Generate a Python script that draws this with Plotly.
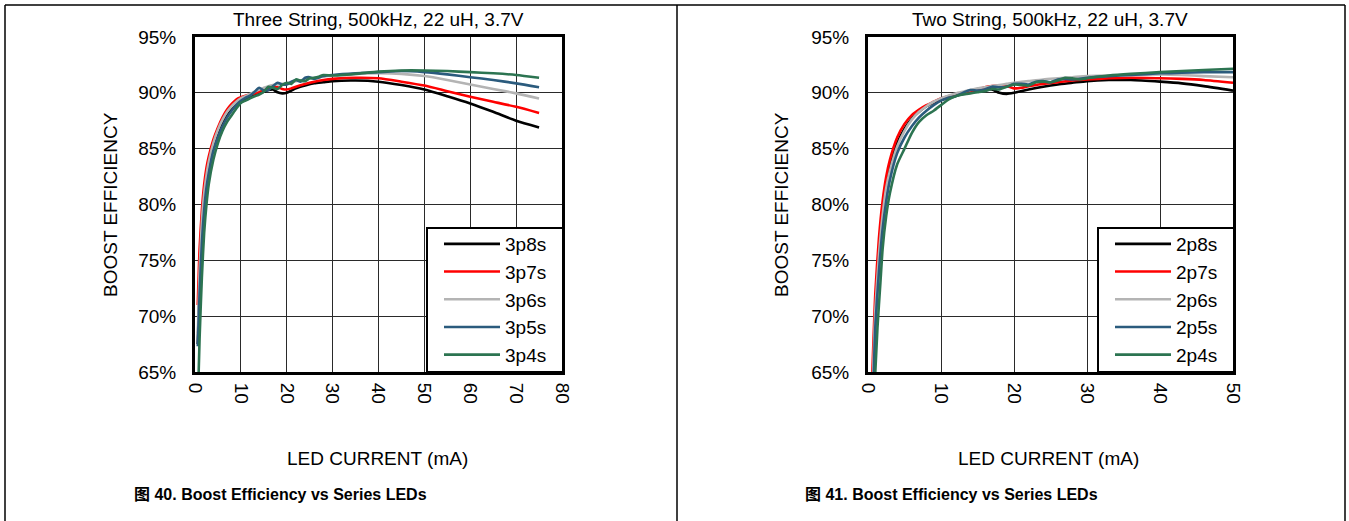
import plotly.graph_objects as go

# ---------------- data: left chart (Three String) ----------------
x3_8 = [0.6, 1, 1.5, 2, 2.5, 3, 4, 5, 6, 7, 8, 9, 10, 11, 12, 13, 14, 15, 16, 17, 18, 19, 20, 21, 22, 24, 26, 28, 30, 35, 40, 45, 50, 55, 60, 65, 70, 75]
y3_8 = [67.5, 73, 77.5, 80.5, 82.3, 83.5, 85.3, 86.5, 87.4, 88.0, 88.5, 88.9, 89.2, 89.4, 89.6, 89.8, 90.0, 90.1, 90.25, 90.3, 90.05, 89.95, 90.0, 90.2, 90.4, 90.65, 90.85, 90.95, 91.05, 91.1, 91.0, 90.7, 90.3, 89.7, 89.05, 88.3, 87.5, 86.9]

x3_7 = [0.6, 1, 1.5, 2, 2.5, 3, 4, 5, 6, 7, 8, 9, 10, 11, 12, 13, 14, 15, 16, 17, 18, 19, 20, 21, 22, 24, 26, 28, 30, 35, 40, 45, 50, 55, 60, 65, 70, 75]
y3_7 = [71, 76, 79.5, 81.8, 83.3, 84.3, 85.8, 86.9, 87.8, 88.5, 89.0, 89.4, 89.6, 89.75, 89.85, 89.95, 90.1, 90.3, 90.45, 90.55, 90.5, 90.35, 90.3, 90.4, 90.55, 90.8, 91.0, 91.15, 91.25, 91.35, 91.3, 91.0, 90.65, 90.15, 89.65, 89.2, 88.75, 88.2]

x3_6 = [0.6, 1, 1.5, 2, 2.5, 3, 4, 5, 6, 7, 8, 9, 10, 11, 12, 13, 14, 15, 16, 17, 18, 19, 20, 21, 22, 24, 26, 28, 30, 35, 40, 45, 50, 55, 60, 65, 70, 75]
y3_6 = [68.5, 74, 78.5, 81, 82.6, 83.8, 85.5, 86.7, 87.6, 88.3, 88.8, 89.2, 89.5, 89.7, 89.9, 90.1, 90.3, 90.45, 90.6, 90.7, 90.75, 90.8, 90.85, 90.95, 91.05, 91.2, 91.35, 91.45, 91.55, 91.7, 91.75, 91.7, 91.5, 91.15, 90.75, 90.35, 89.95, 89.5]

x3_5 = [0.6, 1, 1.5, 2, 2.5, 3, 4, 5, 6, 7, 8, 9, 10, 11, 12, 13, 14, 15, 16, 17, 18, 19, 20, 21, 22, 23, 24, 25, 26, 28, 30, 35, 40, 45, 50, 55, 60, 65, 70, 75]
y3_5 = [67.3, 72, 76.5, 79.5, 81.5, 82.8, 84.8, 86.0, 87.0, 87.8, 88.4, 88.9, 89.3, 89.55, 89.75, 90.1, 90.45, 90.2, 90.25, 90.6, 90.9, 90.75, 90.75, 91.0, 91.15, 91.0, 91.35, 91.4, 91.25, 91.5, 91.6, 91.75, 91.85, 91.95, 91.85, 91.65, 91.4, 91.15, 90.85, 90.5]

x3_4 = [0.8, 1, 1.5, 2, 2.5, 3, 4, 5, 6, 7, 8, 9, 10, 11, 12, 13, 14, 15, 16, 17, 18, 19, 20, 21, 22, 23, 24, 25, 26, 27, 28, 30, 35, 40, 45, 50, 55, 60, 65, 70, 75]
y3_4 = [65, 68, 73.5, 77.5, 80, 81.8, 84.0, 85.5, 86.6, 87.4, 88.0, 88.6, 89.1, 89.3, 89.5, 89.7, 89.85, 90.1, 90.55, 90.45, 90.35, 90.7, 90.9, 90.8, 91.2, 91.1, 91.05, 91.3, 91.35, 91.45, 91.6, 91.55, 91.7, 91.9, 92.0, 92.0, 91.95, 91.85, 91.75, 91.6, 91.35]

# ---------------- data: right chart (Two String) ----------------
x2_8 = [0.7, 1, 1.5, 2, 2.5, 3, 4, 5, 6, 7, 8, 9, 10, 11, 12, 13, 14, 15, 16, 17, 18, 19, 20, 22, 24, 26, 28, 30, 33, 36, 40, 43, 46, 50]
y2_8 = [65, 69.5, 75, 79, 81.5, 83.3, 85.5, 86.8, 87.7, 88.3, 88.8, 89.1, 89.35, 89.55, 89.75, 89.9, 90.05, 90.2, 90.35, 90.3, 90.0, 89.9, 90.0, 90.3, 90.55, 90.75, 90.9, 91.05, 91.15, 91.15, 91.0, 90.85, 90.6, 90.2]

x2_7 = [0.6, 1, 1.5, 2, 2.5, 3, 4, 5, 6, 7, 8, 9, 10, 11, 12, 13, 14, 15, 16, 17, 18, 19, 20, 21, 22, 24, 26, 28, 30, 33, 36, 40, 43, 46, 50]
y2_7 = [65, 72, 77, 80.3, 82.5, 84.0, 86.0, 87.2, 88.0, 88.5, 88.9, 89.2, 89.5, 89.7, 89.85, 90.0, 90.15, 90.3, 90.5, 90.6, 90.65, 90.6, 90.4, 90.45, 90.6, 90.8, 90.95, 91.1, 91.2, 91.3, 91.35, 91.3, 91.25, 91.15, 90.9]

x2_6 = [0.7, 1, 1.5, 2, 2.5, 3, 4, 5, 6, 7, 8, 9, 10, 11, 12, 13, 14, 15, 16, 17, 18, 19, 20, 22, 24, 26, 28, 30, 33, 36, 40, 43, 46, 50]
y2_6 = [65, 70.5, 75.5, 79, 81.5, 83.0, 85.2, 86.6, 87.6, 88.3, 88.8, 89.2, 89.5, 89.75, 89.95, 90.1, 90.25, 90.4, 90.5, 90.6, 90.7, 90.8, 90.9, 91.05, 91.2, 91.3, 91.4, 91.5, 91.55, 91.6, 91.65, 91.6, 91.5, 91.4]

x2_5 = [0.8, 1, 1.5, 2, 2.5, 3, 4, 5, 6, 7, 8, 9, 10, 11, 12, 13, 14, 15, 16, 17, 18, 19, 20, 21, 22, 23, 24, 25, 26, 27, 28, 30, 33, 36, 40, 43, 46, 50]
y2_5 = [65, 69, 74, 77.8, 80.3, 82.2, 84.6, 86.0, 87.0, 87.8, 88.4, 88.9, 89.3, 89.55, 89.7, 90.0, 90.25, 90.2, 90.3, 90.55, 90.5, 90.55, 90.8, 90.8, 90.75, 91.0, 91.05, 90.95, 91.2, 91.25, 91.2, 91.35, 91.5, 91.6, 91.75, 91.8, 91.85, 91.85]

x2_4 = [1.0, 1.3, 1.7, 2, 2.5, 3, 4, 5, 6, 7, 8, 9, 10, 11, 12, 13, 14, 15, 16, 17, 18, 19, 20, 21, 22, 23, 24, 25, 26, 27, 28, 29, 30, 33, 36, 40, 43, 46, 50]
y2_4 = [65, 69, 73, 76, 79, 81.0, 83.6, 85.0, 86.4, 87.4, 88.0, 88.4, 88.9, 89.4, 89.7, 89.85, 89.95, 90.05, 90.15, 90.35, 90.3, 90.55, 90.75, 90.7, 90.65, 90.95, 91.0, 90.95, 91.1, 91.35, 91.3, 91.2, 91.3, 91.55, 91.7, 91.85, 91.95, 92.05, 92.15]

names3 = ["3p8s", "3p7s", "3p6s", "3p5s", "3p4s"]
names2 = ["2p8s", "2p7s", "2p6s", "2p5s", "2p4s"]
colors = ["#000000", "#ff0000", "#b4b4b4", "#2b5b7d", "#2c7451"]

y_ticks = [65, 70, 75, 80, 85, 90, 95]
y_tick_text = ["65%", "70%", "75%", "80%", "85%", "90%", "95%"]
x3_ticks = [0, 10, 20, 30, 40, 50, 60, 70, 80]
x2_ticks = [0, 10, 20, 30, 40, 50]

title3 = "Three String, 500kHz, 22 uH, 3.7V"
title2 = "Two String, 500kHz, 22 uH, 3.7V"
xtitle = "LED CURRENT (mA)"
ytitle = "BOOST EFFICIENCY"
caption3 = "图 40. Boost Efficiency vs Series LEDs"
caption2 = "图 41. Boost Efficiency vs Series LEDs"

# ---------------- figure ----------------
W, H = 1349, 521
FONT = "Liberation Sans, Arial, sans-serif"
FS = 19

def px(x):
    return x / W

def py(y):
    return 1 - y / H

fig = go.Figure()

left_series = [(x3_8, y3_8), (x3_7, y3_7), (x3_6, y3_6), (x3_5, y3_5), (x3_4, y3_4)]
right_series = [(x2_8, y2_8), (x2_7, y2_7), (x2_6, y2_6), (x2_5, y2_5), (x2_4, y2_4)]

for i, (xs, ys) in enumerate(left_series):
    fig.add_trace(go.Scatter(x=xs, y=ys, mode="lines", name=names3[i],
                             line=dict(color=colors[i], width=2.6, shape="spline", smoothing=0.6),
                             xaxis="x", yaxis="y", legend="legend", legendgroup="L%d" % i))
for i, (xs, ys) in enumerate(right_series):
    fig.add_trace(go.Scatter(x=xs, y=ys, mode="lines", name=names2[i],
                             line=dict(color=colors[i], width=2.6, shape="spline", smoothing=0.6),
                             xaxis="x2", yaxis="y2", legend="legend2", legendgroup="R%d" % i))

axis_common = dict(showgrid=True, gridcolor="#2a2a2a", gridwidth=1.2,
                   showline=True, linecolor="black", linewidth=3, mirror=True,
                   zeroline=False, ticks="", automargin=False,
                   tickfont=dict(family=FONT, size=FS, color="black"))

legend_common = dict(yanchor="top", xanchor="left", bgcolor="rgba(0,0,0,0)", borderwidth=0,
                     font=dict(family=FONT, size=FS, color="black"), tracegroupgap=0,
                     itemwidth=56)

fig.update_layout(
    width=W, height=H,
    margin=dict(l=0, r=0, t=0, b=0),
    paper_bgcolor="white", plot_bgcolor="white",
    font=dict(family=FONT, color="black"),
    xaxis=dict(domain=[px(195), px(562)], range=[0, 80], tickvals=x3_ticks, tickangle=90,
               anchor="y", ticklabelstandoff=4, **axis_common),
    yaxis=dict(domain=[py(372), py(37)], range=[65, 95], tickvals=y_ticks, ticktext=y_tick_text,
               anchor="x", ticklabelstandoff=12, **axis_common),
    xaxis2=dict(domain=[px(868), px(1233)], range=[0, 50], tickvals=x2_ticks, tickangle=90,
                anchor="y2", ticklabelstandoff=4, **axis_common),
    yaxis2=dict(domain=[py(372), py(37)], range=[65, 95], tickvals=y_ticks, ticktext=y_tick_text,
                anchor="x2", ticklabelstandoff=12, **axis_common),
    legend=dict(x=px(439), y=py(225), **legend_common),
    legend2=dict(x=px(1110), y=py(225), **legend_common),
    showlegend=True,
)

ann = []
def add_text(text, x, y, size=FS, angle=0, bold=False):
    t = "<b>" + text + "</b>" if bold else text
    ann.append(dict(text=t, x=px(x), y=py(y), xref="paper", yref="paper", showarrow=False,
                    textangle=angle, xanchor="center", yanchor="middle",
                    font=dict(family=FONT + ", Noto Sans CJK SC", size=size, color="black")))

add_text(title3, 378, 20)
add_text(title2, 1050, 20)
add_text(xtitle, 377, 458)
add_text(xtitle, 1048, 458)
add_text(ytitle, 110, 205, angle=-90)
add_text(ytitle, 781, 205, angle=-90)
add_text(caption3, 280, 494, size=16, bold=True)
add_text(caption2, 951, 494, size=16, bold=True)
fig.update_layout(annotations=ann)

# cell frame lines + legend boxes
shapes = []
shapes.append(dict(type="line", xref="paper", yref="paper", x0=px(5), x1=px(1345), y0=py(5), y1=py(5),
                   line=dict(color="black", width=1.5)))
for xv in [5, 677, 1345]:
    shapes.append(dict(type="line", xref="paper", yref="paper", x0=px(xv), x1=px(xv), y0=py(5), y1=0,
                       line=dict(color="black", width=1.5)))
for (lx0, lx1) in [(427, 563), (1098, 1234)]:
    shapes.append(dict(type="rect", xref="paper", yref="paper", x0=px(lx0), x1=px(lx1),
                       y0=py(372), y1=py(228), fillcolor="white",
                       line=dict(color="black", width=2), layer="above"))
fig.update_layout(shapes=shapes)

fig.write_html("out.html",
               config={"displayModeBar": False},
               post_script="document.body.style.margin='0';document.body.style.overflow='hidden';")
